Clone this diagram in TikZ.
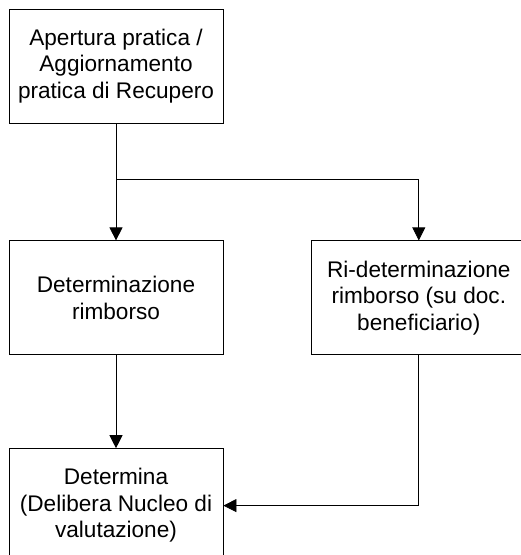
\documentclass[tikz,border=0pt]{standalone}
\usepackage{fontspec}
\setmainfont{Liberation Sans}
\usetikzlibrary{arrows.meta}
\usetikzlibrary{positioning}

\begin{document}
\begin{tikzpicture}[every node/.style={rectangle, draw, line width=0.8pt, align=center, minimum width=214pt, minimum height=114pt, font=\fontsize{22.6}{26.5}\selectfont}, >={Triangle[length=13pt, width=13pt]}]

\useasboundingbox (0,0) rectangle (521pt,-555pt);
\clip (0,0) rectangle (521pt,-555pt);

\node (apertura) at (116pt,-66pt) {Apertura pratica /\\Aggiornamento\\pratica di Recupero};
\node[below=117pt of apertura] (determinazione) {Determinazione\\rimborso};
\node[right=88pt of determinazione] (rideterminazione) {Ri-determinazione\\rimborso (su doc.\\beneficiario)};
\node[below=93pt of determinazione] (determina) {Determina\\(Delibera Nucleo di\\valutazione)};
\coordinate[below=56pt of apertura.south] (split);

\draw[line width=0.8pt] (apertura.south) -- (split);
\draw[->, line width=0.8pt] (split) -- (determinazione.north);
\draw[->, line width=0.8pt] (split) -| (rideterminazione.north);
\draw[->, line width=0.8pt] (determinazione.south) -- (determina.north);
\draw[->, line width=0.8pt] (rideterminazione.south) |- (determina.east);

\end{tikzpicture}
\end{document}
